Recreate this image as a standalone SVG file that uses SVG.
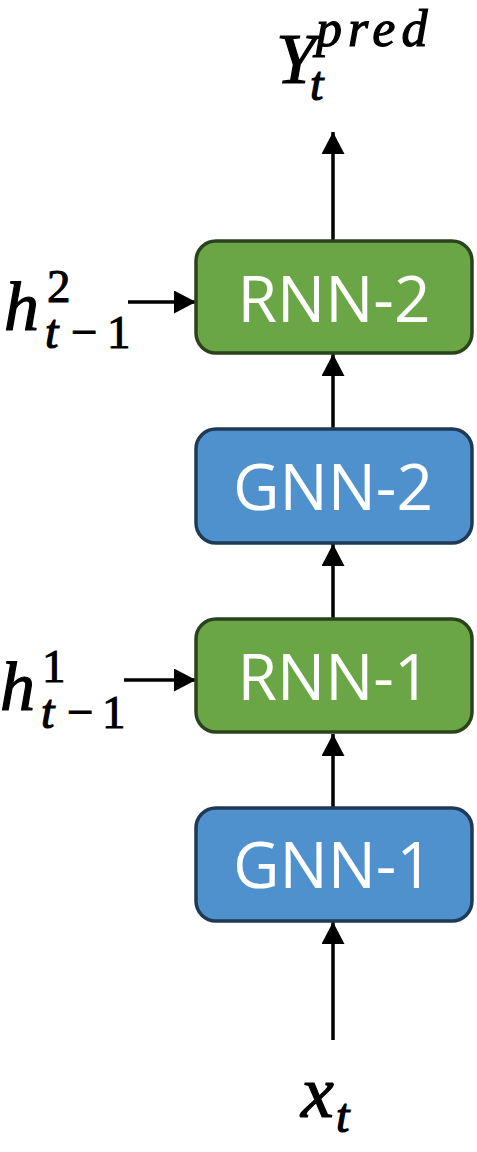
<svg xmlns="http://www.w3.org/2000/svg" width="477" height="1152" viewBox="0 0 477 1152">
<defs>
<style>
.rnn{fill:#6AA546;stroke:#2B431C;stroke-width:3.5}
.gnn{fill:#4F91CD;stroke:#1E3A55;stroke-width:3.5}
.lbl{font-family:"Open Sans","Noto Sans",sans-serif;font-size:64px;fill:#FFFFFF;text-anchor:middle}
.m{font-family:"Liberation Serif","Times New Roman",serif;font-style:italic;fill:#000;stroke:#000;stroke-width:1.2}
.n{font-family:"Liberation Serif","Times New Roman",serif;fill:#000;stroke:#000;stroke-width:1}
.cn{stroke:#000;stroke-width:3.5;fill:none}
</style>
<marker id="ah" viewBox="0 0 22 23" refX="22" refY="11.5" markerWidth="22" markerHeight="23" markerUnits="userSpaceOnUse" orient="auto">
<path d="M0,0 L22,11.5 L0,23 Z" fill="#000"/>
</marker>
</defs>
<rect width="477" height="1152" fill="#fff"/>
<g id="connectors">
<line class="cn" x1="333" y1="240" x2="333" y2="132" marker-end="url(#ah)"/>
<line class="cn" x1="333" y1="428" x2="333" y2="354" marker-end="url(#ah)"/>
<line class="cn" x1="333" y1="618" x2="333" y2="544" marker-end="url(#ah)"/>
<line class="cn" x1="333" y1="807" x2="333" y2="734" marker-end="url(#ah)"/>
<line class="cn" x1="333" y1="1040" x2="333" y2="922" marker-end="url(#ah)"/>
<line class="cn" x1="128" y1="302" x2="196" y2="302" marker-end="url(#ah)"/>
<line class="cn" x1="124" y1="680" x2="196" y2="680" marker-end="url(#ah)"/>
</g>
<g id="rnn2">
<rect class="rnn" x="196" y="241" width="276" height="112" rx="20"/>
<text class="lbl" x="334" y="322">RNN-2</text>
</g>
<g id="gnn2">
<rect class="gnn" x="196" y="429" width="276" height="114" rx="20"/>
<text class="lbl" x="333" y="510">GNN-2</text>
</g>
<g id="rnn1">
<rect class="rnn" x="196" y="619" width="276" height="113" rx="20"/>
<text class="lbl" x="334" y="700">RNN-1</text>
</g>
<g id="gnn1">
<rect class="gnn" x="196" y="808" width="276" height="113" rx="20"/>
<text class="lbl" x="333" y="888">GNN-1</text>
</g>
<g id="ypred">
<text class="m" x="276" y="83" font-size="72">Y</text>
<text class="m" x="316" y="46" font-size="52" letter-spacing="6">pred</text>
<text class="m" x="310" y="100" font-size="48">t</text>
</g>
<g id="h2">
<text class="m" x="4" y="330" font-size="70">h</text>
<text class="n" x="47" y="302" font-size="47">2</text>
<text class="m" x="45" y="348" font-size="48">t</text>
<text class="n" x="71" y="348" font-size="47">−</text>
<text class="n" x="107" y="348" font-size="47">1</text>
</g>
<g id="h1">
<text class="m" x="0" y="710" font-size="70">h</text>
<text class="n" x="42" y="682" font-size="47">1</text>
<text class="m" x="41" y="728" font-size="48">t</text>
<text class="n" x="67" y="728" font-size="47">−</text>
<text class="n" x="102" y="728" font-size="47">1</text>
</g>
<g id="xt">
<text class="m" x="301" y="1117" font-size="74">x</text>
<text class="m" x="336" y="1132" font-size="48">t</text>
</g>
</svg>
